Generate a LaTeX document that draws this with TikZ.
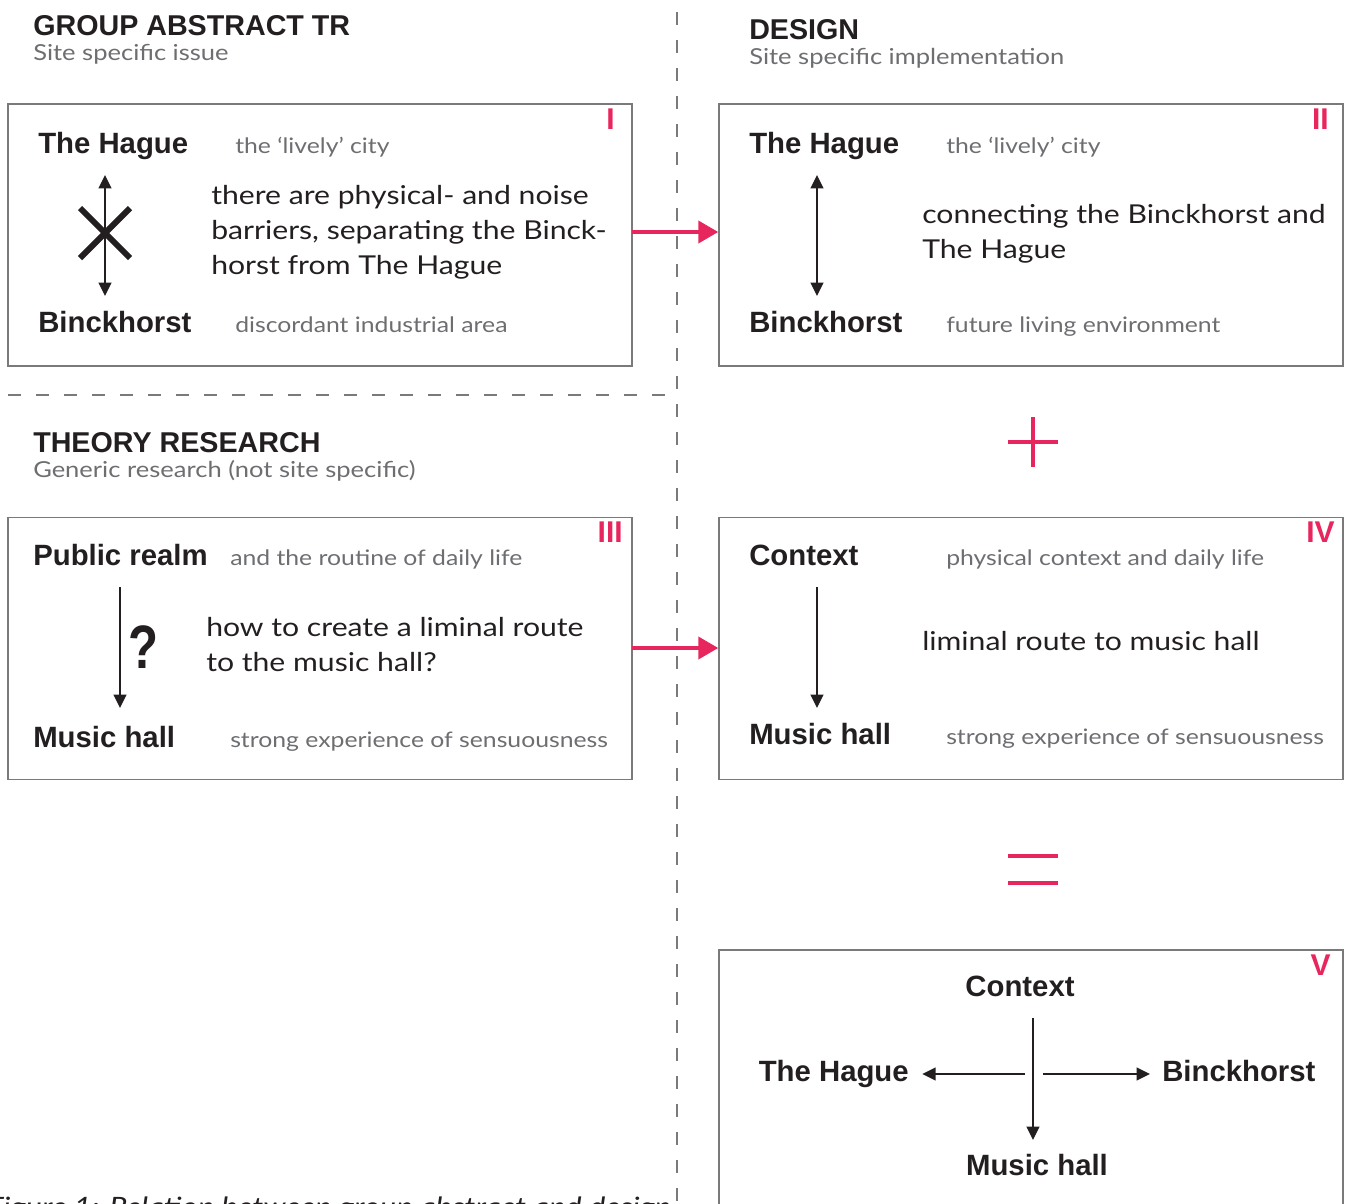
\documentclass[tikz,border=0pt]{standalone}
\usepackage{fontspec}
\setmainfont{Lato}[FakeStretch=1.16]
\newfontfamily\headfont{Liberation Sans}
\usetikzlibrary{arrows.meta}

\definecolor{ink}{HTML}{231F20}
\definecolor{mutedgrey}{HTML}{6D6E71}
\definecolor{framegrey}{HTML}{7A7A7A}
\definecolor{accent}{HTML}{E8265E}

\tikzset{
  panel/.style={draw=framegrey, line width=1.1pt, minimum width=468pt, minimum height=196.5pt, inner sep=0pt},
  heading/.style={font=\headfont\bfseries\fontsize{21.5}{24}\selectfont, text=ink, anchor=base west, inner sep=0pt},
  subheading/.style={font=\fontsize{16.5}{20}\selectfont, text=mutedgrey, anchor=base west, inner sep=0pt},
  term/.style={font=\headfont\bfseries\fontsize{22}{27}\selectfont, text=ink, anchor=base west, inner sep=0pt},
  note/.style={font=\fontsize{16}{19}\selectfont, text=mutedgrey, anchor=base west, inner sep=0pt},
  body/.style={font=\fontsize{19.5}{24}\selectfont, text=ink, anchor=base west, inner sep=0pt},
  numeral/.style={font=\headfont\bfseries\fontsize{22.5}{27}\selectfont, text=accent, anchor=north east, inner sep=0pt},
  relation/.style={draw=ink, line width=1.5pt, -{Triangle[length=10pt,width=9.5pt]}},
  twoway/.style={relation, {Triangle[length=10pt,width=9.5pt]}-{Triangle[length=10pt,width=9.5pt]}},
  link/.style={draw=accent, line width=3pt, -{Triangle[length=15pt,width=16.5pt]}},
  divider/.style={draw=framegrey, line width=1.1pt, dash pattern=on 10pt off 11pt},
  sign/.style={draw=accent, line width=3pt},
  caption/.style={font=\itshape\fontsize{20}{24}\selectfont, text=ink, anchor=base west, inner sep=0pt}
}

\begin{document}
\begin{tikzpicture}[x=0.75pt,y=-0.75pt]
    \useasboundingbox (0,0) rectangle (1347,1204);
    \clip (0,0) rectangle (1347,1204);

    % Dividers
    \draw[divider] (677,12) -- (677,1204);
    \draw[divider] (8,395) -- (677,395);

    % Headings
    \node[heading] (grouphead) at (33,35) {GROUP ABSTRACT TR};
    \node[subheading] (groupsub) at (33,60) {Site specific issue};
    \node[heading] (designhead) at (749,39) {DESIGN};
    \node[subheading] (designsub) at (749,64) {Site specific implementation};
    \node[heading] (theoryhead) at (33,452) {THEORY RESEARCH};
    \node[subheading] (theorysub) at (33,477) {Generic research (not site specific)};

    % Panels
    \node[panel] (boxI) at (320,235) {};
    \node[panel] (boxII) at (1031,235) {};
    \node[panel] (boxIII) at (320,648.5) {};
    \node[panel] (boxIV) at (1031,648.5) {};
    \node[panel, minimum height=232.5pt] (boxV) at (1031,1105) {};

    % Panel numbers
    \node[numeral] (numI) at (615,109) {I};
    \node[numeral] (numII) at (1329,109) {II};
    \node[numeral] (numIII) at (623,522) {III};
    \node[numeral] (numIV) at (1335,522) {IV};
    \node[numeral] (numV) at (1331,955) {V};

    % Panel I - the issue
    \node[term] (hagueI) at (38,153) {The Hague};
    \node[note] (livelyI) at (235,153) {the ‘lively’ city};
    \node[body] (issueIa) at (211,204) {there are physical- and noise};
    \node[body] (issueIb) at (211,239) {barriers, separating the Binck-};
    \node[body] (issueIc) at (211,274) {horst from The Hague};
    \node[term] (binckI) at (38,332) {Binckhorst};
    \node[note] (industrialI) at (235,332) {discordant industrial area};
    \coordinate (arrIt) at (105,175);
    \coordinate (arrIb) at (105,296);
    \draw[twoway] (arrIt) -- (arrIb);
    \draw[ink, line width=4.5pt] (80,208) -- (130,258);
    \draw[ink, line width=4.5pt] (80,258) -- (130,208);

    % Panel II - the design
    \node[term] (hagueII) at (749,153) {The Hague};
    \node[note] (livelyII) at (946,153) {the ‘lively’ city};
    \node[body] (connectIIa) at (922,223) {connecting the Binckhorst and};
    \node[body] (connectIIb) at (922,258) {The Hague};
    \node[term] (binckII) at (749,332) {Binckhorst};
    \node[note] (livingII) at (946,332) {future living environment};
    \coordinate (arrIIt) at (817,175);
    \coordinate (arrIIb) at (817,296);
    \draw[twoway] (arrIIt) -- (arrIIb);

    % Panel III - the research question
    \node[term] (publicIII) at (33,565) {Public realm};
    \node[note] (routineIII) at (230,565) {and the routine of daily life};
    \node[font=\headfont\bfseries\fontsize{46}{50}\selectfont, text=ink, anchor=base west, inner sep=0pt] (askIII) at (128,668) {\scalebox{0.8}[1]{?}};
    \node[body] (questionIIIa) at (206,636) {how to create a liminal route};
    \node[body] (questionIIIb) at (206,671) {to the music hall?};
    \node[term] (musicIII) at (33,747) {Music hall};
    \node[note] (senseIII) at (230,747) {strong experience of sensuousness};
    \coordinate (arrIIIt) at (120,587);
    \coordinate (arrIIIb) at (120,708);
    \draw[relation] (arrIIIt) -- (arrIIIb);

    % Panel IV - the context
    \node[term] (contextIV) at (749,565) {Context};
    \node[note] (dailyIV) at (946,565) {physical context and daily life};
    \node[body] (routeIV) at (922,650) {liminal route to music hall};
    \node[term] (musicIV) at (749,744) {Music hall};
    \node[note] (senseIV) at (946,744) {strong experience of sensuousness};
    \coordinate (arrIVt) at (817,587);
    \coordinate (arrIVb) at (817,708);
    \draw[relation] (arrIVt) -- (arrIVb);

    % Panel V - the result
    \node[term, anchor=base] (contextV) at (1020,996) {Context};
    \node[term, anchor=base east] (hagueV) at (909,1081) {The Hague};
    \node[term] (binckV) at (1162,1081) {Binckhorst};
    \node[term, anchor=base] (musicV) at (1037,1175) {Music hall};
    \coordinate (arrVt) at (1033,1018);
    \coordinate (arrVb) at (1033,1140);
    \coordinate (arrVl) at (1025,1074);
    \coordinate (arrVr) at (1043,1074);
    \draw[relation] (arrVt) -- (arrVb);
    \draw[relation, shorten >=10pt] (arrVl) -- (hagueV.east |- arrVl);
    \draw[relation, shorten >=9pt] (arrVr) -- (binckV.west |- arrVr);

    % Links between the panels
    \coordinate (linkI) at (632,232);
    \coordinate (linkIII) at (632,648);
    \draw[link] (linkI) -- (boxII.west |- linkI);
    \draw[link] (linkIII) -- (boxIV.west |- linkIII);

    % Plus and equals
    \draw[sign] (1008,442) -- (1058,442);
    \draw[sign] (1033,417) -- (1033,467);
    \draw[sign] (1008,856) -- (1058,856);
    \draw[sign] (1008,883) -- (1058,883);

    % Caption
    \node[caption] (figcap) at (-13,1216) {Figure 1: Relation between group abstract and design};
\end{tikzpicture}
\end{document}
